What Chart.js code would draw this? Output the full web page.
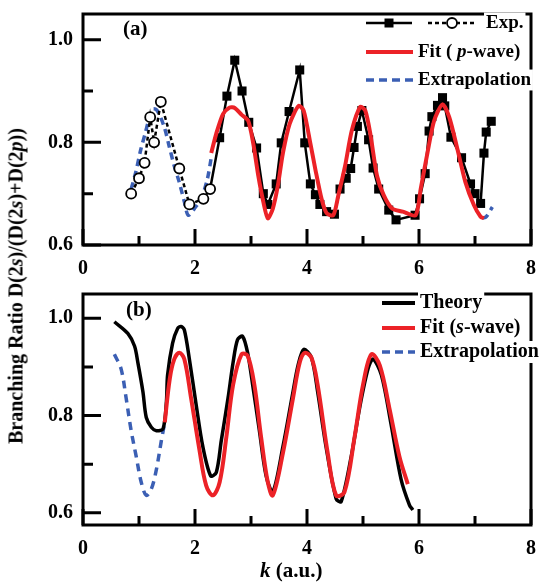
<!DOCTYPE html>
<html>
<head>
<meta charset="utf-8">
<script src="https://cdn.jsdelivr.net/npm/chart.js@4.4.1/dist/chart.umd.min.js"></script>
<style>
  body { margin: 0; background: #fff; }
  #wrap { position: relative; width: 552px; height: 582px; background: #fff; overflow: hidden; }
  .panel { position: absolute; left: 0; width: 552px; }
  .title { position: absolute; font-family: 'Liberation Serif', 'Times New Roman', serif; font-weight: bold; color: #000; white-space: nowrap; }
  #ytitle { left: 16px; top: 286px; font-size: 20px; transform: translate(-50%, -50%) rotate(-90deg); }
  #xtitle { left: 260px; top: 560px; font-size: 21px; line-height: 21px; }
</style>
</head>
<body>
<div id="wrap">
  <div class="panel" style="top:0;height:280px"><canvas id="chartA"></canvas></div>
  <div class="panel" style="top:280px;height:302px"><canvas id="chartB"></canvas></div>
  <div class="title" id="ytitle">Branching Ratio D(2<i>s</i>)/(D(2<i>s</i>)+D(2<i>p</i>))</div>
  <div class="title" id="xtitle"><i>k</i> (a.u.)</div>
</div>
<script>
// panel (a): measured ratio, open circles below k = 2.3, filled squares above
const expOpenK = [0.86, 1.00, 1.10, 1.20, 1.27, 1.39, 1.72, 1.90, 2.15, 2.27];
const expOpenR = [0.700, 0.730, 0.760, 0.849, 0.800, 0.879, 0.749, 0.679, 0.690, 0.709];

const expFilledK = [2.44, 2.57, 2.71, 2.84, 2.96, 3.10, 3.22, 3.30, 3.45, 3.54, 3.68, 3.87, 3.96, 4.06, 4.15,
  4.23, 4.35, 4.49, 4.59, 4.70, 4.78, 4.84, 4.90, 4.98, 5.10, 5.18, 5.28, 5.46, 5.59, 5.93, 6.01, 6.11, 6.18,
  6.23, 6.33, 6.42, 6.46, 6.57, 6.76, 6.92, 7.00, 7.10, 7.16, 7.20, 7.29];
const expFilledR = [0.809, 0.890, 0.960, 0.900, 0.839, 0.789, 0.700, 0.679, 0.719, 0.799, 0.860, 0.941, 0.799,
  0.719, 0.698, 0.679, 0.665, 0.660, 0.709, 0.730, 0.749, 0.790, 0.831, 0.862, 0.805, 0.750, 0.709, 0.668, 0.649,
  0.658, 0.690, 0.739, 0.822, 0.850, 0.872, 0.887, 0.871, 0.810, 0.770, 0.719, 0.700, 0.681, 0.779, 0.820, 0.841];

const fitPK = [2.29, 2.38, 2.50, 2.62, 2.71, 2.83, 2.95, 3.04, 3.13, 3.22, 3.30, 3.39, 3.48, 3.57, 3.69, 3.85,
  3.94, 4.06, 4.15, 4.26, 4.35, 4.47, 4.56, 4.68, 4.80, 4.95, 5.04, 5.13, 5.25, 5.37, 5.52, 5.71, 5.94, 6.03,
  6.15, 6.27, 6.42, 6.54, 6.69, 6.83, 6.98, 7.10, 7.16];
const fitPR = [0.779, 0.817, 0.855, 0.868, 0.867, 0.854, 0.842, 0.798, 0.735, 0.684, 0.652, 0.671, 0.716, 0.779,
  0.836, 0.871, 0.862, 0.798, 0.747, 0.690, 0.662, 0.658, 0.697, 0.754, 0.823, 0.869, 0.862, 0.817, 0.735, 0.697,
  0.671, 0.665, 0.658, 0.709, 0.779, 0.842, 0.874, 0.849, 0.785, 0.722, 0.678, 0.655, 0.652];

const extraLowK = [0.86, 0.94, 1.03, 1.11, 1.18, 1.25, 1.33, 1.45, 1.54, 1.63, 1.72, 1.81, 1.88, 1.99, 2.11, 2.22, 2.29];
const extraLowR = [0.709, 0.741, 0.785, 0.817, 0.846, 0.865, 0.861, 0.830, 0.792, 0.754, 0.722, 0.684, 0.658,
  0.671, 0.690, 0.728, 0.770];
const extraHighK = [7.13, 7.20, 7.31];
const extraHighR = [0.652, 0.655, 0.674];

// panel (b): theory curve with s-wave fit
const theoryK = [0.56, 0.80, 0.92, 0.98, 1.07, 1.13, 1.22, 1.31, 1.43, 1.49, 1.51, 1.60, 1.69, 1.75, 1.81, 1.90,
  2.02, 2.14, 2.28, 2.38, 2.47, 2.59, 2.68, 2.76, 2.85, 2.94, 3.03, 3.15, 3.27, 3.39, 3.57, 3.75, 3.84, 3.94,
  4.08, 4.19, 4.34, 4.52, 4.61, 4.79, 4.94, 5.09, 5.18, 5.33, 5.50, 5.68, 5.83, 5.89];
const theoryR = [0.993, 0.969, 0.943, 0.909, 0.849, 0.796, 0.776, 0.769, 0.773, 0.829, 0.883, 0.949, 0.979, 0.983,
  0.976, 0.916, 0.823, 0.736, 0.676, 0.683, 0.749, 0.836, 0.909, 0.956, 0.963, 0.929, 0.863, 0.769, 0.676, 0.643,
  0.736, 0.849, 0.903, 0.936, 0.919, 0.849, 0.736, 0.629, 0.623, 0.716, 0.816, 0.896, 0.916, 0.883, 0.783, 0.669,
  0.616, 0.606];

const fitSK = [1.46, 1.55, 1.63, 1.72, 1.81, 1.93, 2.08, 2.20, 2.32, 2.44, 2.56, 2.68, 2.83, 2.94, 3.06, 3.18,
  3.30, 3.39, 3.57, 3.75, 3.87, 3.96, 4.08, 4.19, 4.37, 4.52, 4.67, 4.85, 5.00, 5.15, 5.30, 5.47, 5.65, 5.80];
const fitSR = [0.786, 0.876, 0.916, 0.929, 0.916, 0.836, 0.729, 0.656, 0.636, 0.663, 0.756, 0.863, 0.926, 0.923,
  0.863, 0.756, 0.663, 0.636, 0.723, 0.836, 0.909, 0.929, 0.919, 0.863, 0.723, 0.636, 0.643, 0.756, 0.863, 0.926,
  0.903, 0.816, 0.716, 0.659];

const extraBK = [0.56, 0.68, 0.77, 0.86, 0.95, 1.04, 1.13, 1.22, 1.31, 1.40, 1.46];
const extraBR = [0.926, 0.896, 0.836, 0.769, 0.716, 0.663, 0.636, 0.649, 0.689, 0.749, 0.786];

// axis ranges and labelled tick steps
const xRange = [0, 8];
const xStep = 2;
const yRangeA = [0.6, 1.05];
const yRangeB = [0.575, 1.05];
const yStep = 0.2;

const RED = '#ec2227';
const BLUE = '#3b5fb4';
const SERIF = "'Liberation Serif', 'Times New Roman', serif";

function pairs(ks, rs) {
  return ks.map((k, i) => ({ x: k, y: rs[i] }));
}

function setFont(ctx, size, italic) {
  ctx.font = (italic ? 'italic ' : '') + 'bold ' + size + 'px ' + SERIF;
}

// draws text pieces [text, italic] left to right, returns end x
function drawRich(ctx, parts, x, y, size, blank) {
  let w = 0;
  parts.forEach(p => { setFont(ctx, size, p[1]); w += ctx.measureText(p[0]).width; });
  if (blank) {
    ctx.fillStyle = '#fff';
    ctx.fillRect(x - 2, y - size * 0.55, w + 4, size * 1.1);
  }
  ctx.fillStyle = '#000';
  ctx.textBaseline = 'middle';
  ctx.textAlign = 'left';
  parts.forEach(p => {
    setFont(ctx, size, p[1]);
    ctx.fillText(p[0], x, y);
    x += ctx.measureText(p[0]).width;
  });
  return x;
}

function legendLine(ctx, x1, x2, y, color, width, dash) {
  ctx.save();
  ctx.strokeStyle = color;
  ctx.lineWidth = width;
  ctx.setLineDash(dash || []);
  ctx.beginPath();
  ctx.moveTo(x1, y);
  ctx.lineTo(x2, y);
  ctx.stroke();
  ctx.restore();
}

// box around the plot area plus inward major/minor ticks on the left and bottom
function drawFrame(chart) {
  const ctx = chart.ctx;
  const a = chart.chartArea;
  const xs = chart.scales.x;
  const ys = chart.scales.y;
  ctx.save();
  ctx.strokeStyle = '#000';
  ctx.lineWidth = 3;
  ctx.strokeRect(a.left, a.top, a.right - a.left, a.bottom - a.top);

  ctx.beginPath();
  xs.ticks.forEach((t, i) => {
    const px = xs.getPixelForValue(t.value);
    ctx.moveTo(px, a.bottom);
    ctx.lineTo(px, a.bottom - 16);
    if (i < xs.ticks.length - 1) {
      const mid = xs.getPixelForValue((t.value + xs.ticks[i + 1].value) / 2);
      ctx.moveTo(mid, a.bottom);
      ctx.lineTo(mid, a.bottom - 9);
    }
  });
  ys.ticks.forEach((t, i) => {
    const py = ys.getPixelForValue(t.value);
    ctx.moveTo(a.left, py);
    ctx.lineTo(a.left + 18, py);
    if (i < ys.ticks.length - 1) {
      const mid = ys.getPixelForValue((t.value + ys.ticks[i + 1].value) / 2);
      ctx.moveTo(a.left, mid);
      ctx.lineTo(a.left + 10, mid);
    }
  });
  ctx.stroke();
  ctx.restore();
}

function makePanel(canvasId, datasets, yRange, xAxisHeight, decorate) {
  const tickFont = { family: SERIF, size: 20, weight: 'bold' };
  return new Chart(document.getElementById(canvasId), {
    type: 'scatter',
    data: { datasets: datasets },
    options: {
      responsive: true,
      maintainAspectRatio: false,
      animation: false,
      layout: { padding: { left: 0, right: 21, top: 8, bottom: 0 } },
      plugins: {
        legend: { display: false },
        tooltip: { enabled: false }
      },
      scales: {
        x: {
          type: 'linear',
          min: xRange[0],
          max: xRange[1],
          grid: { display: false },
          border: { display: false },
          afterFit(scale) { scale.height = xAxisHeight; },
          ticks: {
            stepSize: xStep,
            includeBounds: false,
            padding: 4,
            color: '#000',
            font: tickFont,
            callback: v => String(v)
          }
        },
        y: {
          type: 'linear',
          min: yRange[0],
          max: yRange[1],
          grid: { display: false },
          border: { display: false },
          afterFit(scale) { scale.width = 83; },
          ticks: {
            stepSize: yStep,
            includeBounds: false,
            padding: 2,
            color: '#000',
            font: tickFont,
            callback: v => v.toFixed(1)
          }
        }
      }
    },
    plugins: [{
      id: 'frameTicks',
      afterDraw(chart) {
        drawFrame(chart);
        decorate(chart.ctx);
      }
    }]
  });
}

const lineBase = { showLine: true, pointRadius: 0, fill: false };

makePanel('chartA', [
  Object.assign({}, lineBase, {
    label: 'Exp. (low k)',
    data: pairs(expOpenK, expOpenR),
    borderColor: '#000',
    borderWidth: 2.5,
    borderDash: [4, 3],
    pointRadius: 5,
    pointStyle: 'circle',
    pointBackgroundColor: '#fff',
    pointBorderColor: '#000',
    pointBorderWidth: 1.8,
    order: 0
  }),
  Object.assign({}, lineBase, {
    label: 'Fit (p-wave)',
    data: pairs(fitPK, fitPR),
    borderColor: RED,
    borderWidth: 4,
    tension: 0.25,
    order: 1
  }),
  Object.assign({}, lineBase, {
    label: 'Exp.',
    // joined to the last open circle, which carries no marker here
    data: [{ x: expOpenK[expOpenK.length - 1], y: expOpenR[expOpenR.length - 1] }].concat(pairs(expFilledK, expFilledR)),
    borderColor: '#000',
    borderWidth: 2.5,
    pointStyle: 'rect',
    pointRadius: c => (c.dataIndex === 0 ? 0 : 6.4),
    pointBackgroundColor: '#000',
    pointBorderColor: '#000',
    pointBorderWidth: 0,
    order: 2
  }),
  Object.assign({}, lineBase, {
    label: 'Extrapolation',
    data: pairs(extraLowK, extraLowR),
    borderColor: BLUE,
    borderWidth: 3.5,
    borderDash: [7, 5],
    tension: 0.3,
    order: 3
  }),
  Object.assign({}, lineBase, {
    label: 'Extrapolation (high k)',
    data: pairs(extraHighK, extraHighR),
    borderColor: BLUE,
    borderWidth: 3.5,
    borderDash: [7, 5],
    tension: 0.3,
    order: 3
  })
], yRangeA, 35, function (ctx) {
  drawRich(ctx, [['(a)', false]], 123, 30, 21);
  // Exp. entry: solid with filled square, dashed with open circle
  legendLine(ctx, 366, 412, 23, '#000', 2.5);
  ctx.fillStyle = '#000';
  ctx.fillRect(384.5, 18.5, 9, 9);
  legendLine(ctx, 428, 475, 23, '#000', 2.5, [4, 3]);
  ctx.save();
  ctx.beginPath();
  ctx.arc(452, 23, 5, 0, Math.PI * 2);
  ctx.fillStyle = '#fff';
  ctx.fill();
  ctx.lineWidth = 1.8;
  ctx.strokeStyle = '#000';
  ctx.stroke();
  ctx.restore();
  drawRich(ctx, [['Exp.', false]], 486, 23, 19, true);
  legendLine(ctx, 366, 413, 52, RED, 4);
  drawRich(ctx, [['Fit ( ', false], ['p', true], ['-wave)', false]], 418, 52, 19, true);
  legendLine(ctx, 366, 413, 80, BLUE, 3.5, [8, 5]);
  drawRich(ctx, [['Extrapolation', false]], 418, 80, 19, true);
});

makePanel('chartB', [
  Object.assign({}, lineBase, {
    label: 'Fit (s-wave)',
    data: pairs(fitSK, fitSR),
    borderColor: RED,
    borderWidth: 4,
    tension: 0.35,
    order: 0
  }),
  Object.assign({}, lineBase, {
    label: 'Theory',
    data: pairs(theoryK, theoryR),
    borderColor: '#000',
    borderWidth: 3.5,
    tension: 0.3,
    order: 1
  }),
  Object.assign({}, lineBase, {
    label: 'Extrapolation',
    data: pairs(extraBK, extraBR),
    borderColor: BLUE,
    borderWidth: 3.5,
    borderDash: [8, 6],
    tension: 0.35,
    order: 2
  })
], yRangeB, 57, function (ctx) {
  drawRich(ctx, [['(b)', false]], 126, 31, 21);
  legendLine(ctx, 382, 415, 23, '#000', 4);
  drawRich(ctx, [['Theory', false]], 420, 23, 20, true);
  legendLine(ctx, 382, 415, 48, RED, 4);
  drawRich(ctx, [['Fit (', false], ['s', true], ['-wave)', false]], 420, 48, 20, true);
  legendLine(ctx, 382, 415, 72, BLUE, 3.5, [8, 5]);
  drawRich(ctx, [['Extrapolation', false]], 420, 72, 20, true);
});
</script>
</body>
</html>
